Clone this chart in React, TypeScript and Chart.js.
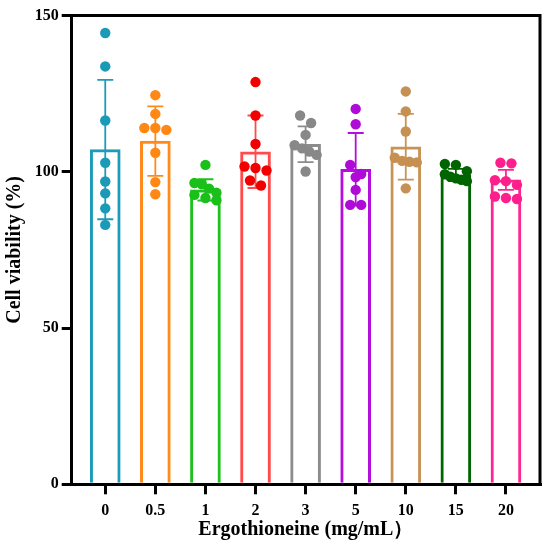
import React, { useEffect, useRef } from 'react';
import { Chart, registerables } from 'chart.js';

Chart.register(...registerables);

// ---- data ----
const categories = ['0', '0.5', '1', '2', '3', '5', '10', '15', '20'];

const pts0 = [144.4, 133.7, 116.4, 102.9, 96.9, 93.1, 88.3, 83.0];
const pts05 = [124.5, 118.5, 114.0, 113.4, 114.0, 106.1, 96.7, 92.8];
const pts1 = [102.2, 96.4, 96.0, 94.6, 93.3, 92.6, 91.6, 90.9];
const pts2 = [128.7, 118.0, 108.9, 101.7, 101.2, 100.4, 97.2, 95.6];
const pts3 = [118.0, 115.6, 111.8, 108.5, 107.5, 106.5, 105.4, 100.1];
const pts5 = [120.1, 115.2, 102.2, 99.3, 98.3, 94.2, 89.4, 89.4];
const pts10 = [125.7, 119.3, 112.9, 104.5, 103.5, 103.2, 103.0, 94.7];
const pts15 = [102.5, 102.2, 100.2, 99.2, 98.4, 97.9, 97.4, 97.0];
const pts20 = [102.9, 102.7, 97.3, 97.0, 95.8, 92.1, 91.6, 91.3];

const groupPoints = [pts0, pts05, pts1, pts2, pts3, pts5, pts10, pts15, pts20];

const means = [107.1, 109.8, 94.2, 106.4, 108.8, 100.8, 108.0, 99.0, 97.4];
const sds = [22.3, 11.1, 3.4, 11.6, 5.7, 11.6, 10.5, 1.9, 3.2];

const yTicks = [0, 50, 100, 150];

// ---- styles ----
const barColors = ['#1C9CB8', '#FF8A1C', '#1DC21D', '#FF4B4B', '#8C8C8C', '#B40EDC', '#C89456', '#006600', '#FF2690'];
const dotColors = ['#1A9AB6', '#FF8815', '#19C019', '#F20000', '#888888', '#B00AD8', '#C69052', '#006400', '#FF1F8C'];

const FONT = '"Liberation Serif", "Times New Roman", serif';

const errorBarPlugin = {
  id: 'errorBars',
  afterDatasetDraw(chart: any, args: any) {
    if (args.index !== 0) return;
    const { ctx } = chart;
    const xs = chart.scales.x;
    const ys = chart.scales.y;
    ctx.save();
    means.forEach((m, i) => {
      const x = xs.getPixelForValue(i);
      const yTop = ys.getPixelForValue(m + sds[i]);
      const yBot = ys.getPixelForValue(m - sds[i]);
      const cap = 8;
      ctx.strokeStyle = barColors[i];
      ctx.lineWidth = 1.8;
      ctx.beginPath();
      ctx.moveTo(x, yTop);
      ctx.lineTo(x, yBot);
      ctx.moveTo(x - cap, yTop);
      ctx.lineTo(x + cap, yTop);
      ctx.moveTo(x - cap, yBot);
      ctx.lineTo(x + cap, yBot);
      ctx.stroke();
    });
    ctx.restore();
  },
};

// Spread points that share a value band into a centred horizontal row
const rowPlugin = {
  id: 'rows',
  afterDatasetsUpdate(chart: any) {
    const band = 10;
    const maxSpan = 22;
    const gap = 11;
    chart.data.datasets.forEach((ds: any, di: number) => {
      if (ds.type !== 'scatter') return;
      const els: any[] = chart.getDatasetMeta(di).data;
      const order = els.map((_, i) => i).sort((a, b) => els[a].y - els[b].y);
      let k = 0;
      while (k < order.length) {
        const startY = els[order[k]].y;
        const row = [order[k]];
        k++;
        while (k < order.length && els[order[k]].y - startY < band) {
          row.push(order[k]);
          k++;
        }
        const n = row.length;
        if (n > 1) {
          const s = Math.min(gap, maxSpan / (n - 1));
          row.forEach((idx, j) => {
            els[idx].x = els[idx].x + (j - (n - 1) / 2) * s;
          });
        }
      }
    });
  },
};

const framePlugin = {
  id: 'frame',
  afterDraw(chart: any) {
    const { ctx, chartArea } = chart;
    ctx.save();
    ctx.strokeStyle = '#000';
    ctx.lineWidth = 3;
    ctx.beginPath();
    ctx.moveTo(chartArea.left, chartArea.top);
    ctx.lineTo(chartArea.right, chartArea.top);
    ctx.lineTo(chartArea.right, chartArea.bottom);
    ctx.stroke();
    ctx.restore();
  },
};

export default function App() {
  const ref = useRef<HTMLCanvasElement>(null);

  useEffect(() => {
    if (!ref.current) return;
    const datasets: any[] = [
      {
        type: 'bar',
        data: means.map((m, i) => ({ x: i, y: m })),
        backgroundColor: '#ffffff',
        borderColor: barColors,
        borderWidth: 3,
        borderSkipped: 'start',
        barThickness: 30,
        order: 2,
      },
      ...groupPoints.map((arr, gi) => ({
        type: 'scatter',
        data: arr.map((v) => ({ x: gi, y: v })),
        backgroundColor: dotColors[gi],
        borderWidth: 0,
        pointRadius: 5.2,
        order: 1,
      })),
    ];

    const chart = new Chart(ref.current, {
      type: 'bar',
      data: { datasets },
      plugins: [errorBarPlugin, rowPlugin, framePlugin],
      options: {
        animation: false,
        responsive: true,
        maintainAspectRatio: false,
        layout: { padding: { top: 15.5, right: 10, left: 0, bottom: 0 } },
        plugins: { legend: { display: false }, tooltip: { enabled: false } },
        scales: {
          x: {
            type: 'linear',
            offset: false,
            min: -0.67,
            max: 8.68,
            afterBuildTicks: (scale: any) => {
              scale.ticks = categories.map((_, i) => ({ value: i }));
            },
            afterFit: (scale: any) => {
              scale.height = 73.7;
            },
            ticks: {
              callback: (v: any) => categories[v as number] ?? '',
              color: '#000',
              font: { family: FONT, size: 16, weight: 'bold' },
              padding: 7,
              maxRotation: 0,
              autoSkip: false,
            },
            grid: { offset: false, drawOnChartArea: false, drawTicks: true, tickLength: 10, lineWidth: 3, color: '#000' },
            border: { display: true, width: 3, color: '#000' },
            title: {
              display: true,
              text: 'Ergothioneine (mg/mL）',
              color: '#000',
              font: { family: FONT, size: 20, weight: 'bold' },
              padding: { top: 0, bottom: 16 },
            },
          },
          y: {
            min: 0,
            max: 150,
            afterBuildTicks: (scale: any) => {
              scale.ticks = yTicks.map((v) => ({ value: v }));
            },
            afterFit: (scale: any) => {
              scale.width = 71.7;
            },
            ticks: {
              color: '#000',
              font: { family: FONT, size: 16, weight: 'bold' },
              padding: 3,
            },
            grid: { drawOnChartArea: false, drawTicks: true, tickLength: 10, lineWidth: 3, color: '#000' },
            border: { display: true, width: 3, color: '#000' },
            title: {
              display: true,
              text: 'Cell viability (%)',
              color: '#000',
              font: { family: FONT, size: 20, weight: 'bold' },
              padding: { top: 3, bottom: 0 },
            },
          },
        },
      } as any,
    });
    return () => chart.destroy();
  }, []);

  return (
    <div style={{ position: 'absolute', left: 0, top: 0, width: 550, height: 558, background: '#fff' }}>
      <canvas ref={ref} />
    </div>
  );
}
